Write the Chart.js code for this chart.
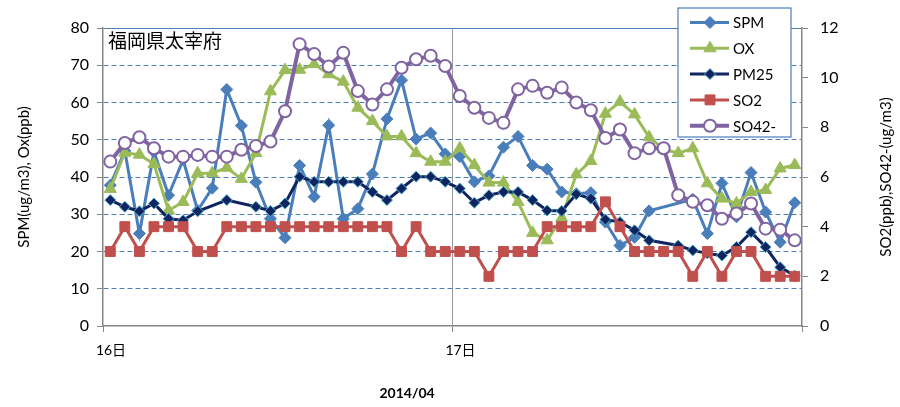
<!DOCTYPE html>
<html>
<head>
<meta charset="utf-8">
<script src="https://cdn.jsdelivr.net/npm/chart.js@4.4.0/dist/chart.umd.min.js"></script>
<style>
  body { margin: 0; background: #fff; }
</style>
</head>
<body>
<canvas id="myChart" width="900" height="407"></canvas>
<script>
// 1時間ごと 48点 (16日0時 〜 17日23時)
const dias = ["16日", "17日"];
const horasPorDia = 24;

const spm = [37.8, 47, 24.8, 46.8, 35.1, 44.6, 31, 37, 63.5, 53.8,
  38.6, 28.8, 23.7, 43.1, 34.7, 53.9, 28.8, 31.5, 40.8, 55.6,
  66, 50.2, 51.8, 46.2, 45.5, 38.7, 40.3, 48, 50.9, 43.1,
  42.1, 36, 35.5, 35.8, 27.9, 21.6, 23.8, 30.9, null, null,
  34, 24.8, 38.3, 29.3, 41.2, 30.6, 22.5, 33.1];
const ox = [36.8, 46.5, 46, 43.5, 31, 33.3, 41, 41, 42.5, 39.5,
  46.4, 63, 68.7, 68.8, 70.3, 67.6, 65.6, 58.6, 55, 50.9,
  50.9, 46.4, 44.1, 44.1, 47.7, 43.2, 38.5, 38.5, 33.3, 25,
  23, 29, 40.7, 44.3, 57, 60.2, 56.8, 50.7, 47.5, 46.4,
  47.7, 38.3, 34.2, 32.9, 36, 36.5, 42.3, 43.2];
const pm25 = [33.8, 32, 30.8, 32.9, 28.8, 28.4, 30.8, null, 33.8, null,
  32, 30.9, 32.9, 40.1, 38.7, 38.7, 38.7, 38.7, 36, 33.8,
  36.9, 40.1, 40.1, 38.7, 36.9, 33.1, 35.1, 36, 36, 33.8,
  31, 30.9, 35.4, 34.2, 28.6, 27.9, 25.7, 23, null, 21.6,
  20.3, 19.5, 18.9, 21.2, 25.2, 21.2, 15.8, 13.5];
const so2 = [3, 4, 3, 4, 4, 4, 3, 3, 4, 4,
  4, 4, 4, 4, 4, 4, 4, 4, 4, 4,
  3, 4, 3, 3, 3, 3, 2, 3, 3, 3,
  4, 4, 4, 4, 5, 4, 3, 3, 3, 3,
  2, 3, 2, 3, 3, 2, 2, 2];
const so42 = [6.62, 7.37, 7.6, 7.16, 6.82, 6.82, 6.89, 6.82, 6.82, 7.1,
  7.25, 7.43, 8.65, 11.35, 10.95, 10.45, 11.0, 9.46, 8.92, 9.53,
  10.4, 10.74, 10.88, 10.47, 9.26, 8.79, 8.38, 8.18, 9.53, 9.67,
  9.39, 9.6, 9.0, 8.69, 7.57, 7.91, 6.96, 7.16, 7.16, 5.27,
  5.0, 4.86, 4.32, 4.53, 4.93, 3.92, 3.88, 3.45];

const titulo = "福岡県太宰府";
const tituloX = "2014/04";
const tituloY = "SPM(ug/m3), Ox(ppb)";
const tituloY2 = "SO2(ppb),SO42-(ug/m3)";

const fuente = "Lato, 'Noto Sans CJK JP', sans-serif";

// cada hora en el centro de su intervalo
const puntos = (serie) => serie.map((v, i) => ({ x: i + 0.5, y: v }));

const leyenda = {
  id: "leyenda",
  afterDraw(chart) {
    const c = chart.ctx;
    const x0 = 678, y0 = 8, w = 113, h = 129;
    c.save();
    c.fillStyle = "#fff";
    c.fillRect(x0, y0, w, h);
    c.strokeStyle = "#4A7EBB";
    c.lineWidth = 1.2;
    c.strokeRect(x0, y0, w, h);
    chart.data.datasets.forEach((ds, i) => {
      const y = y0 + 14.5 + i * 25.8;
      c.strokeStyle = ds.borderColor;
      c.lineWidth = ds.borderWidth;
      c.beginPath();
      c.moveTo(x0 + 12, y);
      c.lineTo(x0 + 51, y);
      c.stroke();
      c.fillStyle = ds.pointBackgroundColor || ds.borderColor;
      c.strokeStyle = ds.pointBorderColor || ds.borderColor;
      c.lineWidth = ds.pointBorderWidth || 1;
      Chart.helpers.drawPoint(c, {
        pointStyle: ds.pointStyle, radius: ds.pointRadius,
        rotation: 0, borderWidth: c.lineWidth
      }, x0 + 32, y);
      c.fillStyle = "#000";
      c.font = "15px " + fuente;
      c.textAlign = "left";
      c.textBaseline = "middle";
      c.fillText(ds.label, x0 + 55, y + 1);
    });
    c.restore();
  }
};

const textos = {
  id: "textos",
  afterDraw(chart) {
    const c = chart.ctx;
    const a = chart.chartArea;
    c.save();
    c.fillStyle = "#000";
    c.textBaseline = "middle";
    c.textAlign = "left";
    c.font = "19px 'Noto Sans CJK JP'";
    c.fillText(titulo, a.left + 5, a.top + 13);
    c.textAlign = "center";
    c.font = "bold 14px " + fuente;
    c.fillText(tituloX, a.left + (a.right - a.left) * 0.435, 393);
    c.translate(886, (a.top + a.bottom) / 2);
    c.rotate(-Math.PI / 2);
    c.font = "15px " + fuente;
    c.fillText(tituloY2, 0, 0);
    c.restore();
  }
};

const ctx = document.getElementById("myChart").getContext("2d");
new Chart(ctx, {
  type: "line",
  data: {
    datasets: [
      {
        label: "SPM", data: puntos(spm), yAxisID: "y", order: 5,
        borderColor: "#4A7EBB", backgroundColor: "#4A7EBB", borderWidth: 3,
        pointStyle: "rectRot", pointRadius: 6,
        pointBackgroundColor: "#4A7EBB", pointBorderColor: "#4A7EBB", pointBorderWidth: 1,
      },
      {
        label: "OX", data: puntos(ox), yAxisID: "y", order: 4,
        borderColor: "#9BBB59", backgroundColor: "#9BBB59", borderWidth: 3,
        pointStyle: "triangle", pointRadius: 7,
        pointBackgroundColor: "#9BBB59", pointBorderColor: "#9BBB59", pointBorderWidth: 1,
      },
      {
        label: "PM25", data: puntos(pm25), yAxisID: "y", order: 3,
        borderColor: "#0F2461", backgroundColor: "#0F2461", borderWidth: 3,
        pointStyle: "rectRot", pointRadius: 5.5,
        pointBackgroundColor: "#0F2461", pointBorderColor: "#4BACC6", pointBorderWidth: 1,
      },
      {
        label: "SO2", data: puntos(so2), yAxisID: "y1", order: 2,
        borderColor: "#C0504D", backgroundColor: "#C0504D", borderWidth: 3,
        pointStyle: "rect", pointRadius: 7,
        pointBackgroundColor: "#C0504D", pointBorderColor: "#C0504D", pointBorderWidth: 1,
      },
      {
        label: "SO42-", data: puntos(so42), yAxisID: "y1", order: 1,
        borderColor: "#8064A2", backgroundColor: "#fff", borderWidth: 4,
        pointStyle: "circle", pointRadius: 6,
        pointBackgroundColor: "#fff", pointBorderColor: "#8064A2", pointBorderWidth: 2,
      },
    ],
  },
  options: {
    responsive: false,
    animation: false,
    spanGaps: true,
    layout: { padding: { top: 28 } },
    plugins: { legend: { display: false }, tooltip: { enabled: false } },
    scales: {
      x: {
        type: "linear",
        min: 0,
        max: dias.length * horasPorDia,
        afterFit: (s) => { s.height = 81; },
        ticks: {
          stepSize: horasPorDia,
          autoSkip: false,
          maxRotation: 0,
          labelOffset: 8,
          padding: 10,
          color: "#000",
          font: { family: fuente, size: 14 },
          callback: (v) => dias[v / horasPorDia] || "",
        },
        grid: {
          color: (c) => (c.tick && c.tick.value > 0 && c.tick.value < dias.length * horasPorDia ? "#9A9A9A" : "rgba(0,0,0,0)"),
          tickColor: "#868686",
          tickLength: 6,
        },
        border: { color: "#868686", width: 1.5 },
      },
      y: {
        position: "left",
        min: 0,
        max: 80,
        afterFit: (s) => { s.width = 103; },
        ticks: { stepSize: 10, padding: 8, color: "#000", font: { family: fuente, size: 16 } },
        grid: {
          color: (c) => (c.tick && c.tick.value === 0 ? "rgba(0,0,0,0)" : "#4A7EBB"),
          tickColor: "#868686",
          tickLength: 6,
        },
        border: {
          color: "#868686",
          width: 1.5,
          dash: (c) => (c.tick && c.tick.value > 0 && c.tick.value < 80 ? [5, 3] : []),
        },
        title: {
          display: true,
          text: tituloY,
          color: "#000",
          font: { family: fuente, size: 15 },
          padding: { top: 15, bottom: 0 },
        },
      },
      y1: {
        position: "right",
        min: 0,
        max: 12,
        afterFit: (s) => { s.width = 98; },
        ticks: { stepSize: 2, padding: 12, color: "#000", font: { family: fuente, size: 16 } },
        grid: { drawOnChartArea: false, tickColor: "#868686", tickLength: 6 },
        border: { color: "#868686", width: 1.5 },
      },
    },
  },
  plugins: [leyenda, textos],
});
</script>
</body>
</html>
